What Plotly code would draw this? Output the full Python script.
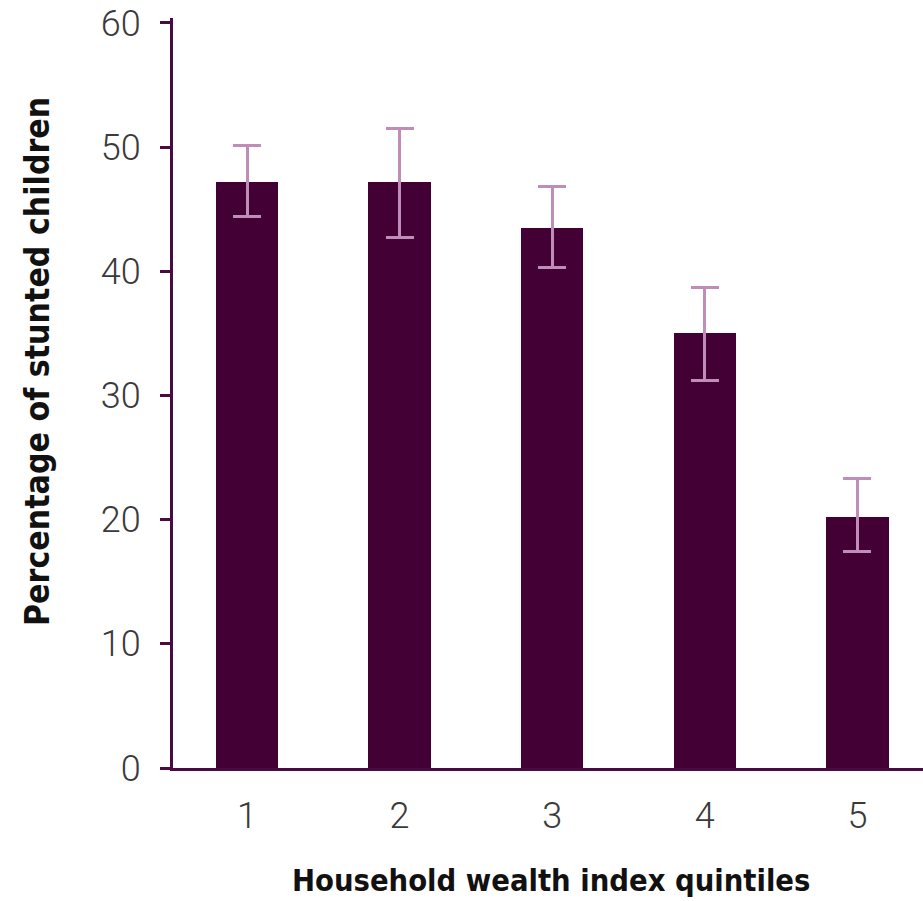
import plotly.graph_objects as go

quintiles = [1, 2, 3, 4, 5]
tick_labels = ["1", "2", "3", "4", "5"]
stunted_pct = [47.2, 47.2, 43.5, 35.0, 20.2]
ci_upper = [50.1, 51.5, 46.8, 38.7, 23.3]
ci_lower = [44.4, 42.7, 40.3, 31.2, 17.4]

err_plus = [u - v for u, v in zip(ci_upper, stunted_pct)]
err_minus = [v - l for v, l in zip(stunted_pct, ci_lower)]

bar_color = "#420035"
axis_color = "#4a0a42"
err_color = "#c08cb8"

fig = go.Figure(
    go.Bar(
        x=quintiles,
        y=stunted_pct,
        width=0.41,
        marker=dict(color=bar_color, line=dict(width=0)),
        error_y=dict(
            type="data",
            symmetric=False,
            array=err_plus,
            arrayminus=err_minus,
            color=err_color,
            thickness=3,
            width=14,
        ),
    )
)

tick_font = dict(family="Roboto, Arial", size=36, color="#3a3a3a", weight=300)
x_title_font = dict(family="DejaVu Sans Condensed, Roboto, Arial", size=30.6, color="#111111")
y_title_font = dict(family="DejaVu Sans Condensed, Roboto, Arial", size=33.5, color="#111111")

top, bottom = 18, 133
plot_w = 923 - 173
plot_h = 901 - top - bottom

fig.update_layout(
    width=923,
    height=901,
    margin=dict(l=173, r=0, t=top, b=bottom),
    plot_bgcolor="white",
    paper_bgcolor="white",
    showlegend=False,
    bargap=0,
    xaxis=dict(
        range=[0.515, 5.43],
        tickvals=quintiles,
        ticktext=tick_labels,
        showgrid=False,
        zeroline=False,
        showline=True,
        linecolor=axis_color,
        linewidth=3,
        ticks="",
        tickfont=tick_font,
        ticklabelstandoff=14,
    ),
    yaxis=dict(
        range=[0, 60.4],
        tickvals=[0, 10, 20, 30, 40, 50, 60],
        showgrid=False,
        zeroline=False,
        showline=True,
        linecolor=axis_color,
        linewidth=3,
        ticks="outside",
        ticklen=10,
        tickwidth=3,
        tickcolor=axis_color,
        tickfont=tick_font,
        ticklabelstandoff=12,
        ticklabeloverflow="allow",
    ),
    annotations=[
        dict(
            text="<b>Household wealth index quintiles</b>",
            x=(551 - 173) / plot_w, y=-(880 - 768) / plot_h,
            xref="paper", yref="paper",
            xanchor="center", yanchor="middle",
            showarrow=False,
            font=x_title_font,
        ),
        dict(
            text="<b>Percentage of stunted children</b>",
            x=-(173 - 37) / plot_w, y=(768 - 362) / plot_h,
            xref="paper", yref="paper",
            xanchor="center", yanchor="middle",
            showarrow=False,
            font=y_title_font,
            textangle=-90,
        ),
    ],
)

fig.write_html("out.html")
